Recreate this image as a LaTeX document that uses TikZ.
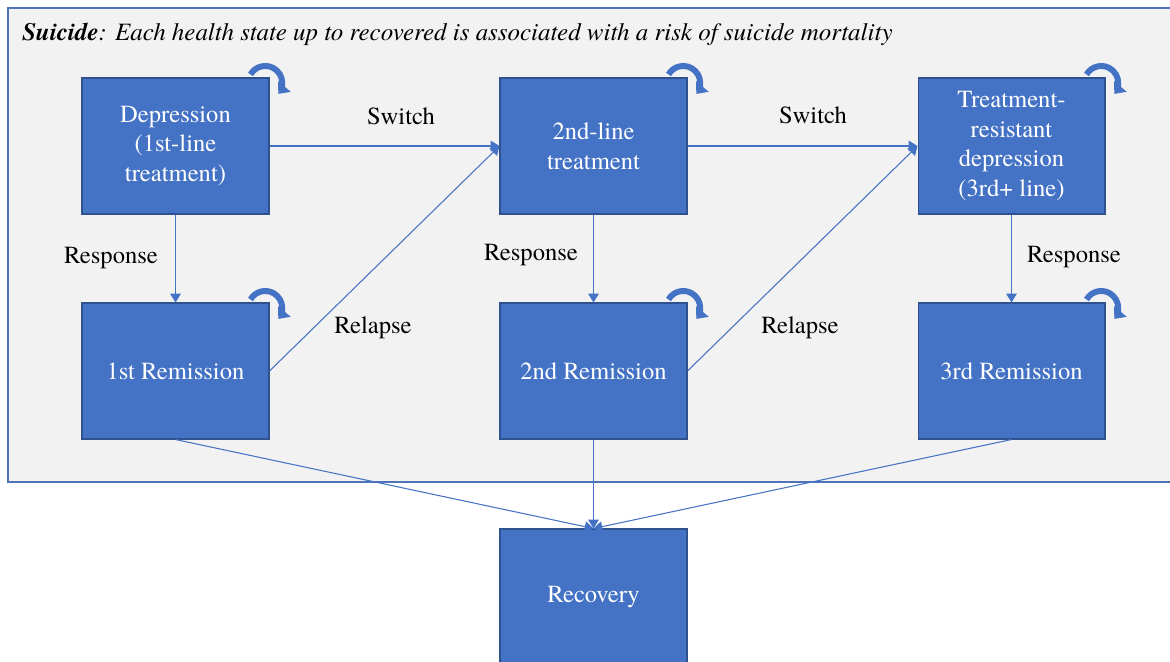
\documentclass[tikz,border=0pt]{standalone}
\usepackage{fontspec}
\setmainfont{texgyretermes}[Extension=.otf,UprightFont=*-regular,BoldFont=*-bold,
  ItalicFont=*-italic,BoldItalicFont=*-bolditalic]
\usetikzlibrary{arrows.meta}
\definecolor{stateblue}{HTML}{4472C4}
\definecolor{stateedge}{HTML}{2F528F}
\definecolor{panelgray}{HTML}{F2F2F2}
\definecolor{paneledge}{HTML}{4F73B8}

\begin{document}
\begin{tikzpicture}[x=0.02cm,y=-0.02cm,
    state/.style={draw=stateedge,line width=0.6pt,fill=stateblue,text=white,
      minimum width=3.74cm,minimum height=2.72cm,align=center,
      font=\fontsize{14}{17}\selectfont},
    trans/.style={draw=stateblue,line width=0.6pt,-{Triangle[width=6pt,length=5pt]}},
    selfloop/.style={draw=stateblue,line width=3.4pt,-{Triangle[width=9pt,length=5.5pt]}},
    lbl/.style={font=\fontsize{14}{17}\selectfont}]
      \useasboundingbox (0,0) rectangle (1170,662);
      \draw[fill=panelgray,draw=paneledge,line width=0.9pt] (8,8) rectangle (1175,482);
      \node[anchor=base west,inner sep=0pt,lbl,font=\fontsize{14.2}{17}\selectfont] (title) at (22,41)
        {\textit{\textbf{Suicide}: Each health state up to recovered is associated with a risk of suicide mortality}};

      \node[state] (depr) at (175.5,146) {Depression\\(1st-line\\treatment)};
      \node[state] (second) at (593.5,146) {2nd-line\\treatment};
      \node[state] (resist) at (1011.5,146) {Treatment-\\resistant\\depression\\(3rd+ line)};
      \node[state] (rem1) at (175.5,371) {1st Remission};
      \node[state] (rem2) at (593.5,371) {2nd Remission};
      \node[state] (rem3) at (1011.5,371) {3rd Remission};
      \node[state] (recov) at (593.5,597) {Recovery};

      \draw[trans] (depr.east) -- (second.west);
      \draw[trans] (rem1.east) -- (second.west);
      \draw[trans] (second.east) -- (resist.west);
      \draw[trans] (rem2.east) -- (resist.west);
      \draw[trans] (depr.south) -- (rem1.north);
      \draw[trans] (second.south) -- (rem2.north);
      \draw[trans] (resist.south) -- (rem3.north);
      \draw[trans] (rem1.south) -- (recov.north);
      \draw[trans] (rem2.south) -- (recov.north);
      \draw[trans] (rem3.south) -- (recov.north);

      \foreach \s in {depr,second,resist,rem1,rem2,rem3}
        \draw[selfloop] ([shift={(-19,-3)}]\s.north east) arc[start angle=150,end angle=-40,radius=0.34cm];

      \node[lbl] (sw1) at (401,116) {Switch};
      \node[lbl] (sw2) at (813,115) {Switch};
      \node[lbl] (re1) at (111,258) {Response};
      \node[lbl] (re2) at (531,255) {Response};
      \node[lbl] (re3) at (1074,257) {Response};
      \node[lbl] (rl1) at (373,328) {Relapse};
      \node[lbl] (rl2) at (800,328) {Relapse};
    \end{tikzpicture}
\end{document}
